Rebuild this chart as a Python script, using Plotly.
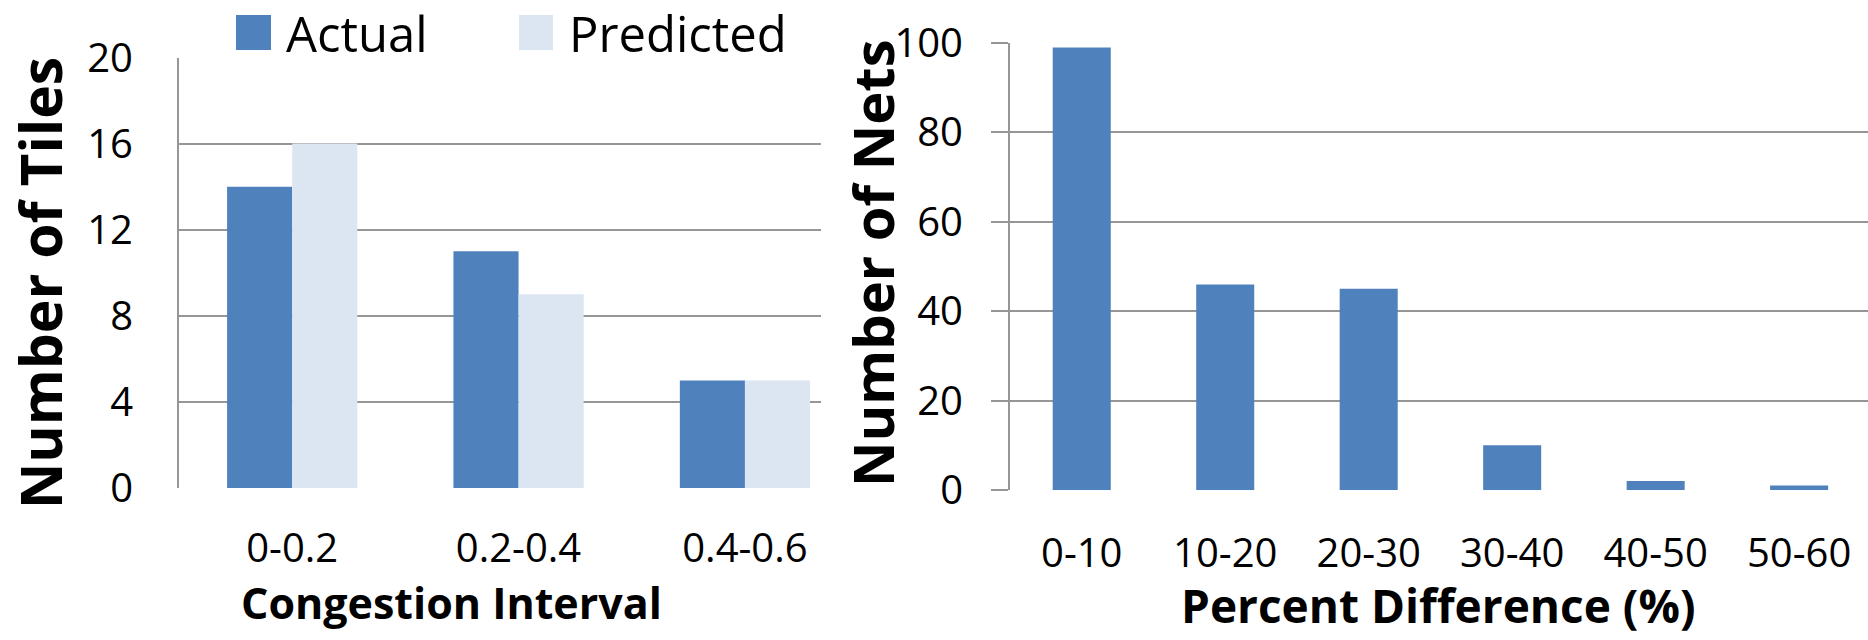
import plotly.graph_objects as go

# Congestion histogram (left panel)
intervals = ["0-0.2", "0.2-0.4", "0.4-0.6"]
actual_tiles = [14, 11, 5]
predicted_tiles = [16, 9, 5]

# Percent difference histogram (right panel)
pct_bins = ["0-10", "10-20", "20-30", "30-40", "40-50", "50-60"]
net_counts = [99, 46, 45, 10, 2, 1]

left_ticks = [0, 4, 8, 12, 16, 20]
right_ticks = [0, 20, 40, 60, 80, 100]

W, H = 1868, 640
C_ACTUAL = "#4F81BD"
C_PRED = "#DCE6F2"
GRID = "#969696"
FONT = "Open Sans"


def px(x):
    return x / W


def py(y):
    return 1 - y / H


fig = go.Figure()

bw_left = 0.2876
fig.add_trace(go.Bar(x=list(range(len(intervals))), y=actual_tiles, name="Actual",
                     marker=dict(color=C_ACTUAL, line=dict(width=0)),
                     width=bw_left, offset=-bw_left, xaxis="x", yaxis="y", showlegend=False))
fig.add_trace(go.Bar(x=list(range(len(intervals))), y=predicted_tiles, name="Predicted",
                     marker=dict(color=C_PRED, line=dict(width=0)),
                     width=bw_left, offset=0, xaxis="x", yaxis="y", showlegend=False))

bw_right = 0.4045
fig.add_trace(go.Bar(x=list(range(len(pct_bins))), y=net_counts, name="Nets",
                     marker=dict(color=C_ACTUAL, line=dict(width=0)),
                     width=bw_right, offset=-bw_right / 2, xaxis="x2", yaxis="y2", showlegend=False))

tickfont = dict(family=FONT, size=40, color="black")

fig.update_layout(
    width=W, height=H,
    margin=dict(l=0, r=0, t=0, b=0, autoexpand=False),
    paper_bgcolor="white", plot_bgcolor="white",
    barmode="overlay",
    showlegend=False,
    xaxis=dict(domain=[px(179), px(821)], range=[-0.5, 2.336], automargin=False,
               tickmode="array", tickvals=list(range(len(intervals))), ticktext=intervals,
               showgrid=False, zeroline=False, showline=False, ticks="",
               tickfont=tickfont, ticklabelstandoff=33, anchor="y"),
    yaxis=dict(domain=[py(488), py(57.5)], range=[0, 20], automargin=False,
               tickmode="array", tickvals=left_ticks,
               showgrid=True, gridcolor=GRID, gridwidth=2, zeroline=False,
               showline=True, linecolor=GRID, linewidth=2, ticks="",
               tickfont=tickfont, ticklabelstandoff=36, anchor="x"),
    xaxis2=dict(domain=[px(1010), 1.0], range=[-0.5, 5.48], automargin=False,
                tickmode="array", tickvals=list(range(len(pct_bins))), ticktext=pct_bins,
                showgrid=False, zeroline=False, showline=False, ticks="",
                tickfont=tickfont, ticklabelstandoff=36, anchor="y2"),
    yaxis2=dict(domain=[py(490), py(43)], range=[0, 100], automargin=False,
                tickmode="array", tickvals=right_ticks,
                showgrid=True, gridcolor=GRID, gridwidth=2, zeroline=False,
                showline=True, linecolor=GRID, linewidth=2,
                ticks="outside", ticklen=17, tickwidth=2, tickcolor=GRID,
                tickfont=tickfont, ticklabelstandoff=20, anchor="x2"),
)

# Axis titles
fig.add_annotation(text="Number of Tiles", x=px(40), y=py(283), xref="paper", yref="paper",
                   textangle=-90, showarrow=False, xanchor="center", yanchor="middle",
                   font=dict(family=FONT, size=57, color="black", weight="bold"))
fig.add_annotation(text="Number of Nets", x=px(872), y=py(264), xref="paper", yref="paper",
                   textangle=-90, showarrow=False, xanchor="center", yanchor="middle",
                   font=dict(family=FONT, size=56, color="black", weight="bold"))
fig.add_annotation(text="Congestion Interval", x=px(451), y=py(602), xref="paper", yref="paper",
                   showarrow=False, xanchor="center", yanchor="middle",
                   font=dict(family=FONT, size=43, color="black", weight="bold"))
fig.add_annotation(text="Percent Difference (%)", x=px(1438), y=py(605), xref="paper", yref="paper",
                   showarrow=False, xanchor="center", yanchor="middle",
                   font=dict(family=FONT, size=46, color="black", weight="bold"))

# Legend keys for the left panel
legend_items = [("Actual", C_ACTUAL, 236, 271, 284), ("Predicted", C_PRED, 519, 553, 567)]
for label, color, x0, x1, tx in legend_items:
    fig.add_shape(type="rect", xref="paper", yref="paper",
                  x0=px(x0), x1=px(x1), y0=py(50), y1=py(15),
                  fillcolor=color, line=dict(width=0))
    fig.add_annotation(text=label, x=px(tx), y=py(33), xref="paper", yref="paper",
                       showarrow=False, xanchor="left", yanchor="middle",
                       font=dict(family=FONT, size=49, color="black"))

fig.write_html("out.html")
